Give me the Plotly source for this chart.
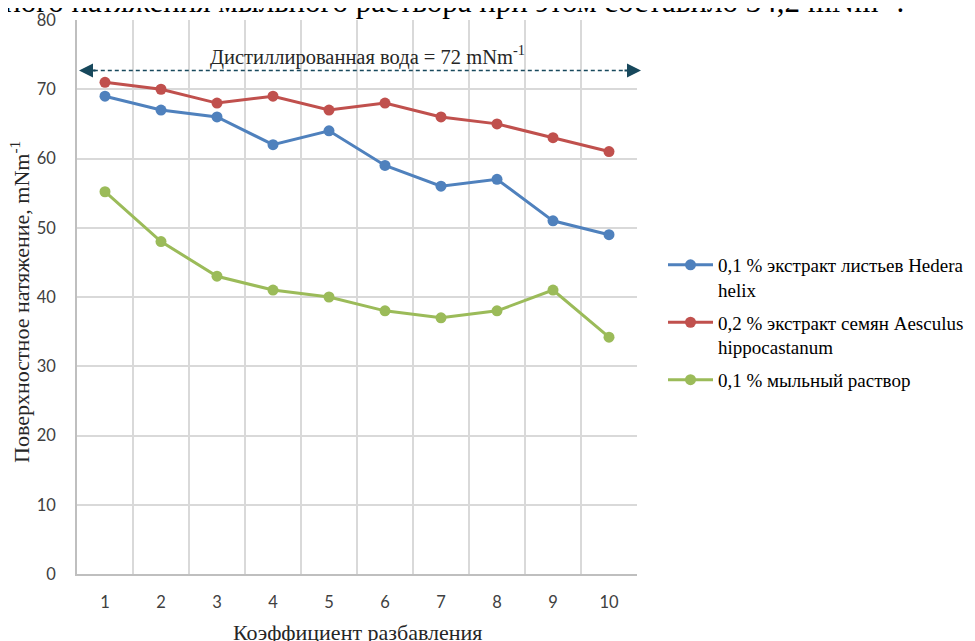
import plotly.graph_objects as go

categories = ["1", "2", "3", "4", "5", "6", "7", "8", "9", "10"]
hedera = [69, 67, 66, 62, 64, 59, 56, 57, 51, 49]
aesculus = [71, 70, 68, 69, 67, 68, 66, 65, 63, 61]
soap = [55.2, 48, 43, 41, 40, 38, 37, 38, 41, 34.2]
water_level = 72.7
series_names = [
    "0,1 % экстракт листьев Hedera<br>helix",
    "0,2 % экстракт семян Aesculus<br>hippocastanum",
    "0,1 % мыльный раствор",
]
colors = ["#4F81BD", "#C0504D", "#9BBB59"]

serif = "Liberation Serif"
sans = "Lato"

# figure sits at an 8px offset inside the page body
W, H = 967, 633
L, R, T, B = 69, 338, 12, 67
PW = W - L - R

fig = go.Figure()
for i, (name, vals, col) in enumerate(zip(series_names, [hedera, aesculus, soap], colors)):
    fig.add_trace(go.Scatter(
        x=categories, y=vals, name=name, mode="lines+markers", legendgroup=f"g{i}",
        line=dict(color=col, width=3),
        marker=dict(color=col, size=11),
    ))

arrow_col = "#17485C"
fig.add_shape(type="line", xref="paper", yref="y", x0=0.03, x1=0.98, y0=water_level, y1=water_level,
              line=dict(color=arrow_col, width=1.5, dash="4px,3px"))
fig.add_annotation(xref="paper", yref="y", x=2 / PW, y=water_level, ax=18, ay=0,
                   text="", showarrow=True, arrowhead=2,
                   arrowsize=1.4, arrowwidth=2, arrowcolor=arrow_col, standoff=0)
fig.add_annotation(xref="paper", yref="y", x=(PW + 4) / PW, y=water_level, ax=-18, ay=0,
                   text="", showarrow=True, arrowhead=2,
                   arrowsize=1.4, arrowwidth=2, arrowcolor=arrow_col, standoff=0)
fig.add_annotation(xref="paper", yref="paper", x=(359 - L) / PW, y=1.0, yanchor="middle", yshift=-35,
                   text="Дистиллированная вода = 72 mNm<sup>-1</sup>", showarrow=False,
                   font=dict(family=serif, size=20.5, color="#262626"))

# cut-off line of body text above the chart
fig.add_annotation(xref="paper", yref="paper", x=(898 - L) / PW, y=1.0, xanchor="right", yanchor="bottom",
                   yshift=-1.5,
                   text="Значение поверхностного натяжения мыльного раствора при этом составило 34,2 mNm<sup>-1</sup>.",
                   showarrow=False, font=dict(family=serif, size=31, color="#000000"))

# axis titles
fig.add_annotation(xref="paper", yref="paper", x=0.5, y=0, yanchor="middle", yshift=-58,
                   text="Коэффициент разбавления", showarrow=False,
                   font=dict(family=serif, size=22, color="#262626"))
fig.add_annotation(xref="paper", yref="paper", x=0, y=0.5, xanchor="center", xshift=-57, yshift=-5,
                   textangle=-90,
                   text="Поверхностное натяжение, mNm<sup>-1</sup>", showarrow=False,
                   font=dict(family=serif, size=22, color="#262626"))

fig.update_layout(
    width=W, height=H,
    margin=dict(l=L, r=R, t=T, b=B),
    paper_bgcolor="white", plot_bgcolor="white",
    font=dict(family=serif),
    showlegend=True,
    legend=dict(xref="container", yref="container", x=655 / W, y=1 - 238 / H,
                xanchor="left", yanchor="top",
                font=dict(family=serif, size=19, color="#000000"),
                valign="top", itemwidth=45, tracegroupgap=5),
    xaxis=dict(type="category", range=[-0.5, 9.5], tickson="boundaries", showgrid=True,
               gridcolor="#D9D9D9",
               gridwidth=1.5, showline=True, linecolor="#BFBFBF", linewidth=1.5, mirror=False,
               ticks="", ticklabelstandoff=12, automargin=False,
               tickfont=dict(family=sans, size=16.5, color="#404040")),
    yaxis=dict(range=[0, 80], dtick=10, showgrid=True, gridcolor="#D9D9D9", gridwidth=1.5,
               showline=True, linecolor="#BFBFBF", linewidth=1.5, zeroline=False, automargin=False,
               ticks="outside", ticklen=16, tickcolor="rgba(0,0,0,0)",
               tickfont=dict(family=sans, size=16.5, color="#404040")),
)

fig.write_html("out.html")
